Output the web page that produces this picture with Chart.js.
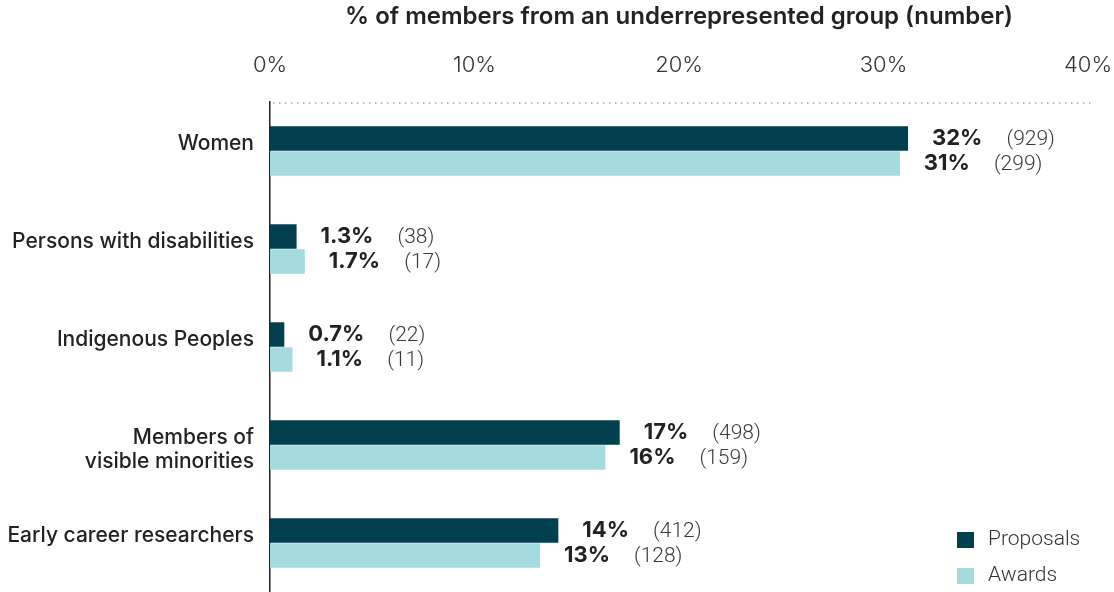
<!DOCTYPE html>
<html>
<head>
<meta charset="utf-8">
<script src="https://cdn.jsdelivr.net/npm/chart.js@4/dist/chart.umd.min.js"></script>
<style>
  html, body { margin: 0; padding: 0; background: #fff; }
  #wrap { width: 1114px; height: 592px; position: relative; }
</style>
</head>
<body>
<div id="wrap"><canvas id="groupChart"></canvas></div>
<script>
// data
var categories = ['Women', 'Persons with disabilities', 'Indigenous Peoples', ['Members of', 'visible minorities'], 'Early career researchers'];
var proposals = [31.2, 1.3, 0.7, 17.1, 14.1];
var awards = [30.8, 1.7, 1.1, 16.4, 13.2];
var proposalPct = ['32%', '1.3%', '0.7%', '17%', '14%'];
var awardPct = ['31%', '1.7%', '1.1%', '16%', '13%'];
var proposalCount = ['(929)', '(38)', '(22)', '(498)', '(412)'];
var awardCount = ['(299)', '(17)', '(11)', '(159)', '(128)'];
var xTicks = [0, 10, 20, 30, 40];

var DARK = '#02404f';
var LIGHT = '#a5dbde';

/* dotted line along the top of the plot */
var topDots = {
    id: 'topDots',
    beforeDatasetsDraw: function(chart) {
        var ctx = chart.ctx, a = chart.chartArea;
        ctx.save();
        ctx.strokeStyle = '#a8a8a8';
        ctx.lineWidth = 1.5;
        ctx.setLineDash([1.5, 4.5]);
        ctx.beginPath();
        ctx.moveTo(a.left + 3, a.top + 1);
        ctx.lineTo(a.right + 4, a.top + 1);
        ctx.stroke();
        ctx.restore();
    }
};

/* value labels next to each bar */
var barLabels = {
    id: 'barLabels',
    afterDatasetsDraw: function(chart) {
        var ctx = chart.ctx;
        var pcts = [proposalPct, awardPct];
        var counts = [proposalCount, awardCount];
        ctx.save();
        ctx.textBaseline = 'middle';
        ctx.textAlign = 'left';
        chart.data.datasets.forEach(function(ds, di) {
            chart.getDatasetMeta(di).data.forEach(function(bar, i) {
                var x = bar.x + 24;
                ctx.font = '700 22px Inter';
                ctx.fillStyle = '#222';
                ctx.fillText(pcts[di][i], x, bar.y);
                var w = ctx.measureText(pcts[di][i]).width;
                ctx.font = '300 21px Roboto';
                ctx.fillStyle = '#3a3a3a';
                ctx.fillText(counts[di][i], x + w + 24, bar.y + 1);
            });
        });
        ctx.restore();
    }
};

/* legend in the bottom right corner */
var cornerLegend = {
    id: 'cornerLegend',
    afterDraw: function(chart) {
        var ctx = chart.ctx, a = chart.chartArea;
        var x = a.right - 131;
        ctx.save();
        ctx.font = '300 21px Roboto';
        ctx.textBaseline = 'middle';
        chart.data.datasets.forEach(function(ds, i) {
            var y = a.bottom - 60 + i * 36;
            ctx.fillStyle = ds.backgroundColor;
            ctx.fillRect(x, y, 17, 16);
            ctx.fillStyle = '#333';
            ctx.fillText(ds.label, x + 31, y + 8);
        });
        ctx.restore();
    }
};

new Chart(document.getElementById('groupChart'), {
    type: 'bar',
    data: {
        labels: categories,
        datasets: [
            { label: 'Proposals', data: proposals, backgroundColor: DARK },
            { label: 'Awards', data: awards, backgroundColor: LIGHT }
        ]
    },
    options: {
        indexAxis: 'y',
        responsive: true,
        maintainAspectRatio: false,
        animation: false,
        layout: { padding: { right: 26, left: 0, top: 0, bottom: 0 } },
        datasets: { bar: { categoryPercentage: 0.51, barPercentage: 0.98 } },
        plugins: { legend: { display: false }, tooltip: { enabled: false } },
        scales: {
            x: {
                position: 'top',
                min: 0, max: 40,
                afterBuildTicks: function(s) { s.ticks = xTicks.map(function(v) { return { value: v }; }); },
                afterFit: function(s) { s.height = 102; s.paddingLeft = 0; s.paddingRight = 0; },
                grid: { display: false, drawTicks: false },
                border: { display: false },
                ticks: {
                    padding: 23,
                    color: '#333',
                    font: { family: 'Inter', size: 22, weight: '300' },
                    callback: function(v) { return v + '%'; }
                },
                title: {
                    display: true,
                    text: '% of members from an underrepresented group (number)',
                    color: '#222',
                    font: { family: 'Inter', size: 24, weight: '600' },
                    padding: { top: 2, bottom: 0 }
                }
            },
            y: {
                afterFit: function(s) { s.width = 270; s.paddingTop = 0; s.paddingBottom = 0; },
                grid: { display: false, drawTicks: false },
                border: { display: true, color: '#222', width: 1.5 },
                ticks: {
                    padding: 16,
                    color: '#222',
                    labelOffset: 5,
                    font: { family: 'Inter', size: 21, weight: '500', lineHeight: 1.15 },
                    // labels sit top-aligned: single lines get an empty second line
                    callback: function(v, i) {
                        var l = categories[i];
                        return Array.isArray(l) ? l : [l, ''];
                    }
                }
            }
        }
    },
    plugins: [topDots, barLabels, cornerLegend]
});
</script>
</body>
</html>
